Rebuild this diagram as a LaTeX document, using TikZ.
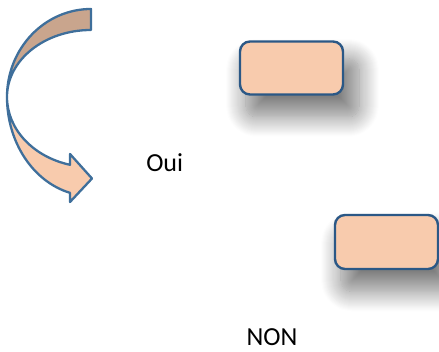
\documentclass[tikz,border=0pt]{standalone}
\usepackage{fontspec}
\setmainfont{Carlito}
\usetikzlibrary{shadows.blur}
\definecolor{peach}{HTML}{F8CBAD}
\definecolor{peachdark}{HTML}{C9A58D}
\definecolor{arrowline}{HTML}{3F6F9B}
\definecolor{boxline}{HTML}{2B5886}
\tikzset{
  decisionbox/.style={draw=boxline, line width=2.4pt, fill=peach,
    rounded corners=10pt, minimum width=103pt, minimum height=53pt, inner sep=0pt,
    blur shadow={shadow xshift=10pt, shadow yshift=-18pt, shadow blur radius=18pt,
      shadow blur steps=20, shadow opacity=50, shadow scale=1.1}},
  bandline/.style={draw=arrowline, line width=2.3pt, line join=round},
  label/.style={font=\fontsize{26}{30}\selectfont, inner sep=0pt, anchor=base}
}
\begin{document}
\begin{tikzpicture}[x=1pt,y=1pt]
\useasboundingbox (0,0) rectangle (439,352);
% back band of the curved arrow
\filldraw[bandline, fill=peachdark]
  (91,343) arc[start angle=90, end angle=180, x radius=84, y radius=88]
  arc[start angle=180, end angle=90, x radius=84, y radius=67] -- cycle;
% front band with head
\filldraw[bandline, fill=peach]
  (7,255) arc[start angle=180, end angle=255.52, x radius=84, y radius=99]
  -- (70,150) -- (92,173.5) -- (70,198) -- (70,187.2)
  arc[start angle=255.52, end angle=180, x radius=84, y radius=70] -- cycle;
% boxes
\node[decisionbox] (box1) at (291.5,284) {};
\node[decisionbox, minimum height=54pt] (box2) at (386.5,110) {};
% labels
\node[label] (oui) at (164.7,180.6) {Oui};
\node[label] (non) at (272,6) {NON};
\end{tikzpicture}
\end{document}
